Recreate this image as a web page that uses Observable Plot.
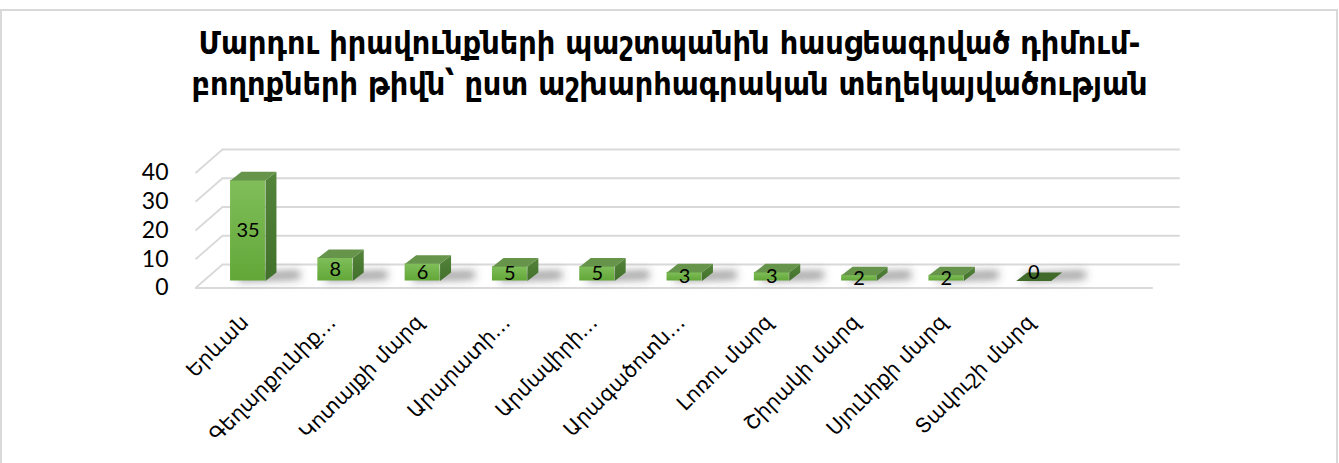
<!DOCTYPE html>
<html><head><meta charset="utf-8">
<script src="https://cdn.jsdelivr.net/npm/d3@7"></script>
<script src="https://cdn.jsdelivr.net/npm/@observablehq/plot@0.6"></script>
<style>
html,body{margin:0;padding:0;background:#fff;}
#wrap{position:relative;width:1339px;height:463px;overflow:hidden;}
#box{position:absolute;left:0;top:9px;width:1338px;height:470px;border:2px solid #d9d9d9;box-sizing:border-box;}
#title{position:absolute;left:0;top:23px;width:1339px;text-align:center;font-family:"DejaVu Sans Condensed","DejaVu Sans";font-weight:bold;font-size:32px;line-height:41px;color:#000;}
#chart{position:absolute;left:0;top:0;}
</style></head><body>
<div id="wrap"><div id="box"></div><div id="title">Մարդու իրավունքների պաշտպանին հասցեագրված դիմում-<br>բողոքների թիվն՝ ըստ աշխարհագրական տեղեկայվածության</div><div id="chart"></div></div>
<script>
const categories = ["Երևան","Գեղարքունիք…","Կոտայքի մարզ","Արարատի…","Արմավիրի…","Արագածոտն…","Լոռու մարզ","Շիրակի մարզ","Սյունիքի մարզ","Տավուշի մարզ"];
const values = [35, 8, 6, 5, 5, 3, 3, 2, 2, 0];
const yTicks = [0, 10, 20, 30, 40];

// geometry (data units)
const half = 0.2, depX = 0.126, depY = 2.96;
const wallX = 0.309, wallY = 8.17;
const floorL = -0.521, floorR = 10.45;

const bars = values.map((v, i) => ({i, v, cat: categories[i]}));
const tops = [], sides = [], shadows = [];
bars.forEach(({i, v}) => {
  [[i-half, v],[i+half, v],[i+half+depX, v+depY],[i-half+depX, v+depY]].forEach(([x,y]) => tops.push({k: i, x, y, zero: v === 0}));
  if (v > 0) [[i+half, 0],[i+half+depX, depY],[i+half+depX, v+depY],[i+half, v]].forEach(([x,y]) => sides.push({k: i, x, y}));
  shadows.push({k: i, x: i-0.1, y1: -0.3, y2: 2.4});
  shadows.push({k: i, x: i+0.6, y1: 0.6, y2: 3.4});
});

const defs = () => {
  const d = d3.create("svg:defs");
  const g1 = d.append("linearGradient").attr("id","gFront").attr("x1",0).attr("y1",0).attr("x2",0).attr("y2",1);
  g1.append("stop").attr("offset","0%").attr("stop-color","#80be5a");
  g1.append("stop").attr("offset","100%").attr("stop-color","#62a738");
  const g2 = d.append("linearGradient").attr("id","gSide").attr("x1",0).attr("y1",0).attr("x2",0).attr("y2",1);
  g2.append("stop").attr("offset","0%").attr("stop-color","#55853b");
  g2.append("stop").attr("offset","100%").attr("stop-color","#40702a");
  const f = d.append("filter").attr("id","blur").attr("x","-50%").attr("y","-100%").attr("width","200%").attr("height","300%");
  f.append("feGaussianBlur").attr("stdDeviation", 4);
  return d.node();
};

const grid = "#d9d9d9";
const off = {dx: 7, dy: -7};

const plot = Plot.plot({
  width: 1339, height: 463,
  marginLeft: 195, marginRight: 186, marginTop: 172, marginBottom: 176,
  x: {domain: [0, 9], range: [240.5, 240.5 + 87.3*9], axis: null},
  y: {domain: [0, 40], range: [287.5, 172.5], axis: null},
  marks: [
    defs,
    Plot.ruleY(yTicks, {y: d => d + wallY, x1: floorL + wallX, x2: floorR + wallX, stroke: grid, strokeWidth: 1.8}),
    Plot.link(yTicks, {x1: floorL, y1: d => d, x2: floorL + wallX, y2: d => d + wallY, stroke: grid, strokeWidth: 1.8}),
    Plot.ruleY([0], {x1: floorL, x2: floorR, stroke: grid, strokeWidth: 1.8}),
    Plot.areaY(shadows, {x: "x", y1: "y1", y2: "y2", z: "k", fill: "#3a3a3a", fillOpacity: 0.55, curve: "linear", ...off}),
    Plot.rect(bars, {x1: d => d.i - half, x2: d => d.i + half, y1: 0, y2: "v", fill: "url(#gFront)", ...off}),
    Plot.line(sides, {x: "x", y: "y", z: "k", fill: "url(#gSide)", stroke: null, ...off}),
    Plot.line(tops, {x: "x", y: "y", z: "k", fill: d => d.zero ? "#3f6a2a" : "#65944a", stroke: null, ...off}),
    Plot.text(bars, {x: "i", y: d => d.v === 0 ? depY : d.v / 2, text: d => String(d.v), fontSize: 20, fontFamily: "Lato", fill: "#000", ...off}),
    Plot.axisY(yTicks, {tickSize: 0, tickPadding: 27, fontSize: 23, fontFamily: "Lato", fill: "#000"}),
    Plot.text(bars, {x: "i", y: 0, text: "cat", rotate: -45, textAnchor: "end", dx: 4, dy: 31, fontSize: 20.5, fontFamily: "DejaVu Sans", fill: "#000"})
  ]
});
d3.select(plot).selectAll('g[aria-label="area"]').attr("filter", "url(#blur)");
document.getElementById("chart").appendChild(plot);
</script>
</body></html>
